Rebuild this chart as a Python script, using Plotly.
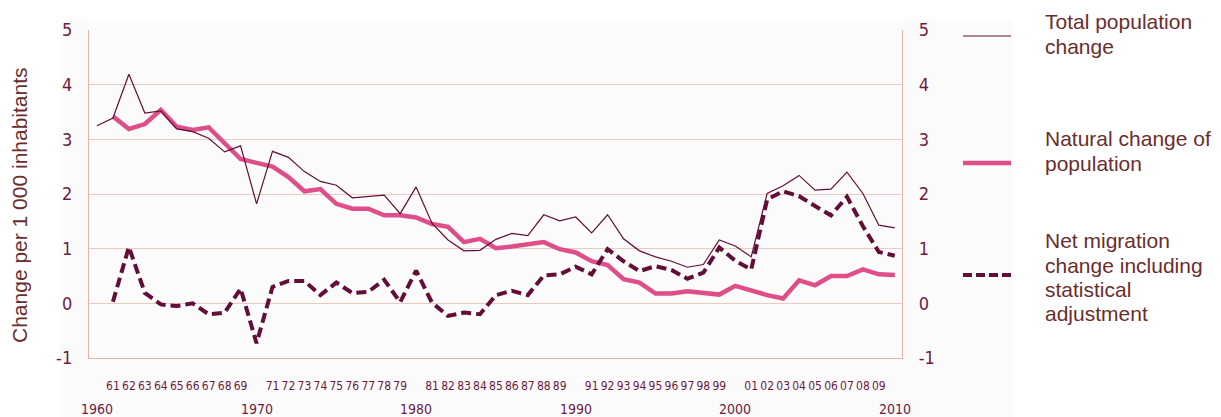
import plotly.graph_objects as go

years_total = list(range(1960, 2011))
total_change = [3.25, 3.39, 4.19, 3.48, 3.52, 3.19, 3.14, 3.02, 2.77, 2.88,
                1.82, 2.78, 2.67, 2.41, 2.23, 2.16, 1.93, 1.95, 1.98, 1.64,
                2.13, 1.46, 1.16, 0.96, 0.97, 1.17, 1.28, 1.24, 1.62, 1.51,
                1.58, 1.29, 1.62, 1.18, 0.96, 0.85, 0.77, 0.66, 0.71, 1.16,
                1.05, 0.85, 2.01, 2.15, 2.34, 2.07, 2.09, 2.40, 2.01, 1.43, 1.38]

years_comp = list(range(1961, 2011))
natural_change = [3.42, 3.19, 3.28, 3.54, 3.23, 3.17, 3.22, 2.93, 2.64,
                  2.57, 2.50, 2.31, 2.05, 2.09, 1.82, 1.73, 1.73, 1.61, 1.61,
                  1.57, 1.45, 1.40, 1.12, 1.18, 1.01, 1.04, 1.09, 1.12, 0.99,
                  0.93, 0.77, 0.70, 0.44, 0.38, 0.18, 0.18, 0.22, 0.18, 0.16,
                  0.32, 0.23, 0.15, 0.09, 0.42, 0.33, 0.50, 0.50, 0.62, 0.53, 0.52]
net_migration = [0.03, 1.03, 0.19, -0.02, -0.05, 0.00, -0.20, -0.17, 0.27,
                 -0.73, 0.30, 0.41, 0.41, 0.15, 0.38, 0.19, 0.21, 0.43, 0.02,
                 0.60, 0.01, -0.23, -0.17, -0.20, 0.15, 0.23, 0.15, 0.51, 0.53,
                 0.67, 0.53, 0.99, 0.77, 0.59, 0.68, 0.61, 0.45, 0.56, 1.02,
                 0.78, 0.62, 1.90, 2.05, 1.96, 1.78, 1.61, 1.95, 1.41, 0.94, 0.87]

short_tick_years = [y for y in range(1961, 2010) if y % 10 != 0]
short_tick_text = ["%02d" % (y % 100) for y in short_tick_years]
decade_years = [1960, 1970, 1980, 1990, 2000, 2010]
y_ticks = [-1, 0, 1, 2, 3, 4, 5]
y_tick_text = ["-1", "0", "1", "2", "3", "4", "5"]

legend_lines = [["Total population", "change"],
                ["Natural change of", "population"],
                ["Net migration", "change including", "statistical", "adjustment"]]

MAROON = "#620e38"
PINK = "#de4f8a"
TICK_COL = "#6e1a42"
TEXT_COL = "#6b2d2d"
GRID = "#ebcac1"
AXLINE = "#e3b6ab"
PANEL = "#fbfbfb"
TICKFONT = "Liberation Sans Narrow, DejaVu Sans Condensed, sans-serif"
TEXTFONT = "Liberation Sans, Arial, sans-serif"

# plot-area pixel geometry (used only for placing text/legend in paper coords)
PL, PR, PT, PB = 89, 902, 30, 358
def px_x(x):
    return (x - PL) / (PR - PL)
def px_y(y):
    return (PB - y) / (PB - PT)

fig = go.Figure()
fig.add_trace(go.Scatter(x=years_comp, y=natural_change, mode="lines",
                         line=dict(color=PINK, width=4.5), name="Natural",
                         hoverinfo="skip"))
fig.add_trace(go.Scatter(x=years_total, y=total_change, mode="lines",
                         line=dict(color=MAROON, width=1.2), name="Total",
                         hoverinfo="skip"))
fig.add_trace(go.Scatter(x=years_comp, y=net_migration, mode="lines",
                         line=dict(color=MAROON, width=4, dash="10px,5px"),
                         name="Net", hoverinfo="skip"))
# trace attached to right axis (invisible) so that axis is drawn
fig.add_trace(go.Scatter(x=years_total, y=total_change, mode="lines",
                         line=dict(color="rgba(0,0,0,0)", width=0),
                         yaxis="y2", hoverinfo="skip", showlegend=False))

yfont = dict(family=TICKFONT, size=18, color=TICK_COL)
fig.update_layout(
    width=1221, height=417,
    margin=dict(l=PL, r=1221 - PR, t=PT, b=417 - PB),
    paper_bgcolor="white", plot_bgcolor="rgba(0,0,0,0)",
    showlegend=False,
    xaxis=dict(range=[1959.5, 2010.45], showgrid=False, zeroline=False,
               showline=True, linecolor=AXLINE, linewidth=1.3,
               tickmode="array", tickvals=short_tick_years,
               ticktext=short_tick_text, ticks="", tickangle=0,
               automargin=False, ticklabelstandoff=16,
               tickfont=dict(family=TICKFONT, size=12, color=TICK_COL)),
    yaxis=dict(range=[-1, 5], tickvals=y_ticks, ticktext=y_tick_text,
               showgrid=True, gridcolor=GRID,
               gridwidth=1.3, zeroline=False, showline=True, linecolor=AXLINE,
               linewidth=1.3, ticks="", ticklabelstandoff=12, automargin=False,
               tickfont=yfont),
    yaxis2=dict(range=[-1, 5], tickvals=y_ticks, ticktext=y_tick_text,
                overlaying="y", side="right",
                showgrid=False, zeroline=False, showline=True, linecolor=AXLINE,
                linewidth=1.3, ticks="", ticklabelstandoff=12, automargin=False,
                tickfont=yfont),
)

# faint background panel
fig.add_shape(type="rect", xref="paper", yref="paper", layer="below",
              x0=px_x(60), x1=px_x(1013), y0=px_y(417), y1=px_y(20),
              fillcolor=PANEL, line=dict(width=0))

annotations = []
for yr in decade_years:
    annotations.append(dict(x=yr, y=px_y(409), xref="x", yref="paper",
                            text=str(yr), showarrow=False, xanchor="center",
                            yanchor="middle",
                            font=dict(family=TICKFONT, size=14, color=TICK_COL)))

annotations.append(dict(x=px_x(20), y=px_y(205), xref="paper", yref="paper",
                        text="Change per 1 000 inhabitants", textangle=-90,
                        showarrow=False, xanchor="center", yanchor="middle",
                        font=dict(family=TEXTFONT, size=21, color=TEXT_COL)))

legend_line_y = [[21, 46], [138, 163], [240, 265, 289, 313]]
for lines, ys in zip(legend_lines, legend_line_y):
    for txt, ly in zip(lines, ys):
        annotations.append(dict(x=px_x(1043), y=px_y(ly), xref="paper",
                                yref="paper", text=txt, showarrow=False,
                                xanchor="left", yanchor="middle", align="left",
                                font=dict(family=TEXTFONT, size=21,
                                          color=TEXT_COL)))
fig.update_layout(annotations=annotations)

# legend samples
samples = [(36, dict(color=MAROON, width=1.2)),
           (163, dict(color=PINK, width=4.5)),
           (275, dict(color=MAROON, width=4, dash="9px,4px"))]
for sy, ln in samples:
    fig.add_shape(type="line", xref="paper", yref="paper",
                  x0=px_x(963), x1=px_x(1011), y0=px_y(sy), y1=px_y(sy),
                  line=ln)

fig.write_html("out.html", config={"displayModeBar": False},
               post_script="document.body.style.margin='0px';"
                           "document.body.style.padding='0px';")
